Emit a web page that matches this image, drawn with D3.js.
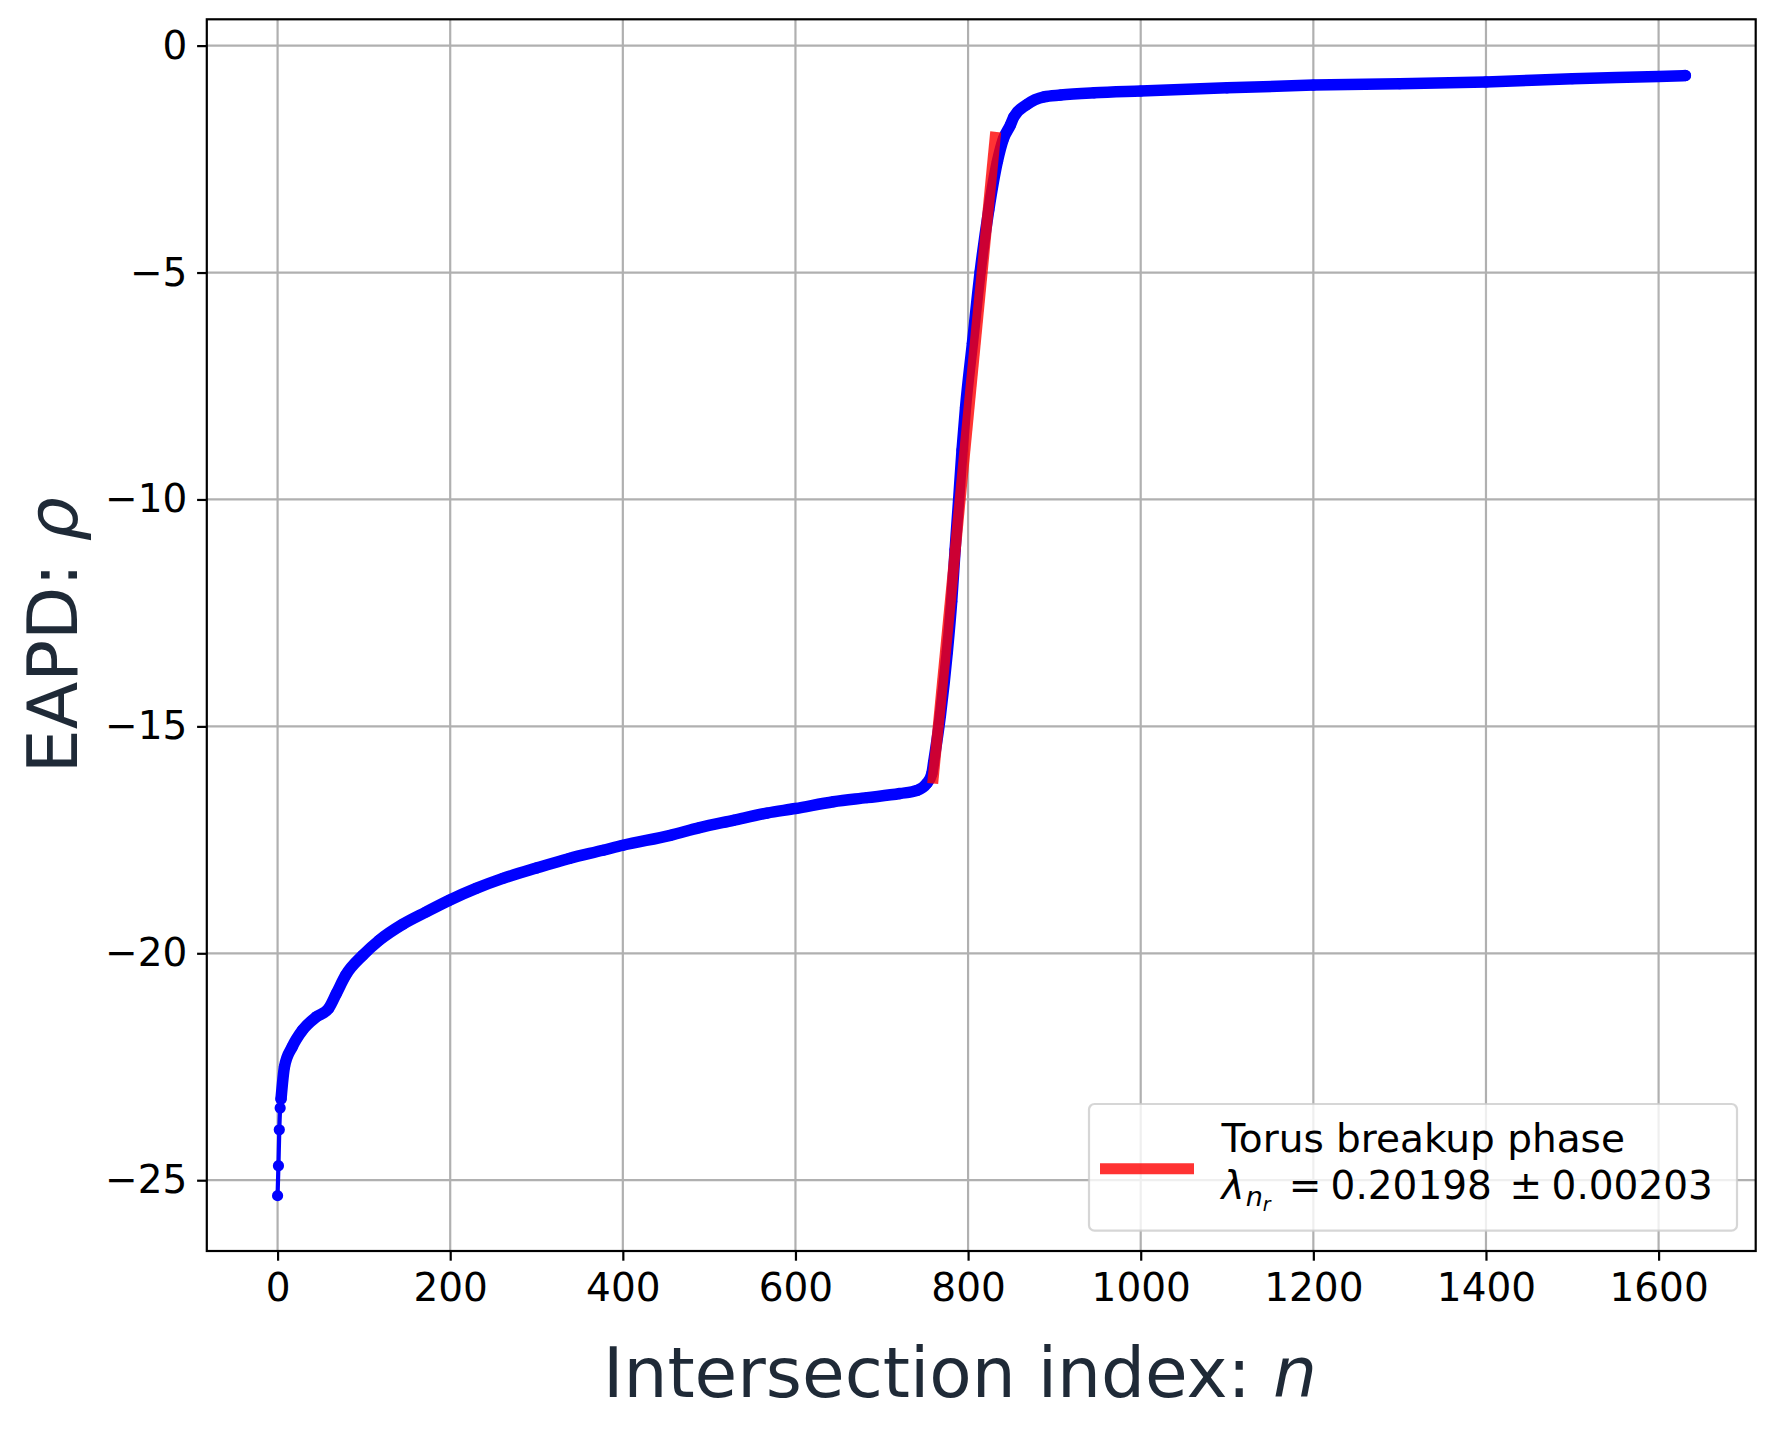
<!DOCTYPE html>
<html>
<head>
<meta charset="utf-8">
<script src="https://cdn.jsdelivr.net/npm/d3@7"></script>
<style>
  body { margin: 0; background: #fff; }
  svg { display: block; font-family: "DejaVu Sans", sans-serif; }
</style>
</head>
<body>
<div id="chart"></div>
<script>
// intersection index n and EAPD rho
var nIdx = [0,1,2,3,4,8,17,29,45,59,68,79,99,118,145,172,199,230,261,300,338,377,400,455,489,528,567,600,644,683,721,741,752,758,760,768,776,781,785,789,793,797,805,814,824,834,841,849,853,868,888,907,946,1000,1100,1200,1300,1400,1500,1600,1631];
var eapd = [-25.34,-24.68,-23.89,-23.41,-23.21,-22.50,-22.06,-21.69,-21.40,-21.22,-20.89,-20.48,-20.04,-19.71,-19.36,-19.09,-18.83,-18.57,-18.35,-18.12,-17.91,-17.73,-17.62,-17.40,-17.23,-17.07,-16.91,-16.81,-16.66,-16.57,-16.48,-16.41,-16.26,-16.04,-15.80,-14.75,-13.35,-12.25,-11.10,-10.02,-8.91,-7.98,-6.56,-4.98,-3.62,-2.55,-2.05,-1.75,-1.57,-1.30,-1.13,-1.09,-1.04,-1.00,-0.93,-0.87,-0.84,-0.80,-0.73,-0.68,-0.66];

// linear fit over the torus breakup phase
var fitN = [759, 832];
var fitRho = [-16.26, -1.90];
var fitLabel = "Torus breakup phase";
var fitLambda = "0.20198", fitErr = "0.00203";

var xTicks = [0,200,400,600,800,1000,1200,1400,1600];
var yTicks = [0,-5,-10,-15,-20,-25];

var W = 1777, H = 1431;
var margin = {top: 19.3, right: W - 1755.7, bottom: H - 1251, left: 206.8};
var width = W - margin.left - margin.right,
    height = H - margin.top - margin.bottom;

var data = nIdx.map(function(n, i) { return {n: n, rho: eapd[i]}; });

var x = d3.scaleLinear().domain([-82, 1712.5]).range([0, width]);
var y = d3.scaleLinear().domain([-26.56, 0.58]).range([height, 0]);

var svg = d3.select("#chart").append("svg")
    .attr("width", W)
    .attr("height", H);

svg.append("rect").attr("width", W).attr("height", H).attr("fill", "#fff");

var g = svg.append("g")
    .attr("transform", "translate(" + margin.left + "," + margin.top + ")");

// grid
g.append("g").selectAll("line").data(xTicks).enter().append("line")
    .attr("x1", function(d) { return x(d); }).attr("x2", function(d) { return x(d); })
    .attr("y1", 0).attr("y2", height)
    .attr("stroke", "#b0b0b0").attr("stroke-width", 2.2);
g.append("g").selectAll("line").data(yTicks).enter().append("line")
    .attr("y1", function(d) { return y(d); }).attr("y2", function(d) { return y(d); })
    .attr("x1", 0).attr("x2", width)
    .attr("stroke", "#b0b0b0").attr("stroke-width", 2.2);

var line = d3.line()
    .x(function(d) { return x(d.n); })
    .y(function(d) { return y(d.rho); })
    .curve(d3.curveMonotoneX);

// dense part of the series: markers overlap into a band
g.append("path")
    .datum(data.filter(function(d) { return d.n >= 4; }))
    .attr("d", line)
    .attr("fill", "none")
    .attr("stroke", "#0000ff")
    .attr("stroke-width", 11.5)
    .attr("stroke-linejoin", "round")
    .attr("stroke-linecap", "round");

g.append("path")
    .datum(data)
    .attr("d", line)
    .attr("fill", "none")
    .attr("stroke", "#0000ff")
    .attr("stroke-width", 4.2);

g.append("g").selectAll("circle").data(data).enter().append("circle")
    .attr("cx", function(d) { return x(d.n); })
    .attr("cy", function(d) { return y(d.rho); })
    .attr("r", 5.6)
    .attr("fill", "#0000ff");

// fit line
g.append("line")
    .attr("x1", x(fitN[0])).attr("y1", y(fitRho[0]))
    .attr("x2", x(fitN[1])).attr("y2", y(fitRho[1]))
    .attr("stroke", "#ff0000")
    .attr("stroke-opacity", 0.8)
    .attr("stroke-width", 11);

// axes
var xaxis = d3.axisBottom(x).tickValues(xTicks).tickFormat(d3.format("d"))
    .tickSize(9.7).tickPadding(12.5);
var yaxis = d3.axisLeft(y).tickValues(yTicks).tickFormat(d3.format("d"))
    .tickSize(9.7).tickPadding(9.7);

var gx = g.append("g")
    .attr("class", "xaxis")
    .attr("transform", "translate(0," + height + ")")
    .call(xaxis);
var gy = g.append("g")
    .attr("class", "yaxis")
    .call(yaxis);

[gx, gy].forEach(function(a) {
  a.select(".domain").remove();
  a.selectAll(".tick line").attr("stroke", "#000").attr("stroke-width", 2.2);
  a.selectAll(".tick text")
    .attr("fill", "#000")
    .style("font-size", "39px")
    .style("font-family", "DejaVu Sans");
});

g.append("rect")
    .attr("width", width).attr("height", height)
    .attr("fill", "none")
    .attr("stroke", "#000")
    .attr("stroke-width", 2.2);

// axis labels
svg.append("text")
    .attr("x", 960)
    .attr("y", 1396.7)
    .attr("text-anchor", "middle")
    .style("font-size", "69.4px")
    .attr("fill", "#1f2a37")
    .text("Intersection index: ")
    .append("tspan")
      .style("font-style", "italic")
      .text("n");

svg.append("text")
    .attr("transform", "translate(77," + (margin.top + height / 2) + ") rotate(-90)")
    .attr("text-anchor", "middle")
    .style("font-size", "69.4px")
    .attr("fill", "#1f2a37")
    .text("EAPD: ")
    .append("tspan")
      .style("font-style", "italic")
      .text("ρ");

// legend
var leg = svg.append("g");
leg.append("rect")
    .attr("x", 1089).attr("y", 1104)
    .attr("width", 1737 - 1089).attr("height", 1230.7 - 1104)
    .attr("rx", 5.5)
    .attr("fill", "#fff").attr("fill-opacity", 0.8)
    .attr("stroke", "#cccccc").attr("stroke-opacity", 0.8)
    .attr("stroke-width", 2.2);
leg.append("line")
    .attr("x1", 1100).attr("x2", 1194)
    .attr("y1", 1168.7).attr("y2", 1168.7)
    .attr("stroke", "#ff0000").attr("stroke-opacity", 0.8)
    .attr("stroke-width", 11);
leg.append("text")
    .attr("x", 1221.6).attr("y", 1151.7)
    .style("font-size", "39px")
    .text(fitLabel);
var t2 = leg.append("text")
    .attr("x", 1221.6).attr("y", 1199.3)
    .style("font-size", "39px");
t2.append("tspan").style("font-style", "italic").text("λ");
t2.append("tspan").style("font-style", "italic").style("font-size", "27px")
    .attr("dx", 1).attr("dy", 7).text("n");
t2.append("tspan").style("font-style", "italic").style("font-size", "19px")
    .attr("dy", 5).text("r");
t2.append("tspan").attr("x", 1288.7).attr("dy", -12).text("=");
t2.append("tspan").attr("x", 1330.6).text(fitLambda);
t2.append("tspan").attr("x", 1509.6).text("±");
t2.append("tspan").attr("x", 1551.6).text(fitErr);
</script>
</body>
</html>
